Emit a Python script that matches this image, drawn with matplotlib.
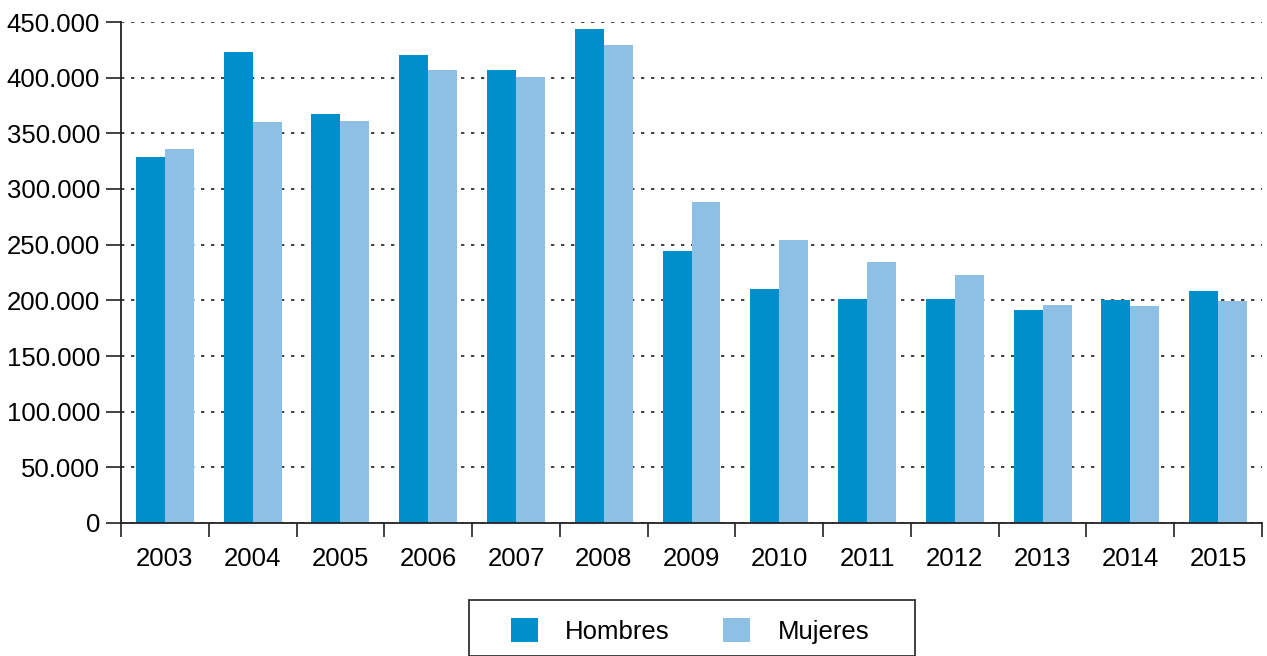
import matplotlib.pyplot as plt
import numpy as np
from matplotlib.patches import Rectangle
from matplotlib.ticker import FuncFormatter, MultipleLocator

# values
years = ['2003', '2004', '2005', '2006', '2007', '2008', '2009',
         '2010', '2011', '2012', '2013', '2014', '2015']
hombres = [329000, 423000, 367000, 420000, 407000, 444000, 244000,
           210000, 201000, 201000, 191000, 200000, 208000]
mujeres = [336000, 360000, 361000, 407000, 401000, 429000, 288000,
           254000, 234000, 223000, 196000, 195000, 199000]

plt.rcParams['font.family'] = ['Liberation Sans', 'DejaVu Sans']
plt.rcParams['font.size'] = 18.5

fig = plt.figure(figsize=(12.67, 6.56), dpi=100)
ax = fig.add_axes([121 / 1267, 1 - 523 / 656, 1141 / 1267, 501 / 656])

x = np.arange(len(years))
w = 0.33
ax.bar(x - w / 2, hombres, w, color='#008fcb', label='Hombres', zorder=2)
ax.bar(x + w / 2, mujeres, w, color='#8dc0e4', label='Mujeres', zorder=2)

ax.set_xlim(-0.5, len(years) - 0.5)
ax.set_ylim(0, 450000)
ax.yaxis.set_major_locator(MultipleLocator(50000))
ax.yaxis.set_major_formatter(FuncFormatter(lambda v, p: f'{int(v):,}'.replace(',', '.')))
ax.grid(axis='y', linestyle=(0, (2, 4)), color='#222222', linewidth=1.2, zorder=1)

# year labels centred, tick marks between the groups
ax.set_xticks(x)
ax.set_xticklabels(years)
ax.tick_params(axis='x', which='major', length=0, pad=17)
ax.set_xticks(np.arange(-0.5, len(years)), minor=True)
ax.tick_params(axis='x', which='minor', length=10, width=1.2, color='#222222')
ax.tick_params(axis='y', length=11, width=1.2, color='#222222', pad=4)

for s in ['top', 'right']:
    ax.spines[s].set_visible(False)
for s in ['left', 'bottom']:
    ax.spines[s].set_linewidth(1.3)
    ax.spines[s].set_color('#222222')

fig.patches.append(Rectangle((469 / 1267, 0), 446 / 1267, 1 - 600 / 656,
                             transform=fig.transFigure, fill=False,
                             edgecolor='#333333', linewidth=1.3))
fig.legend(loc='center', bbox_to_anchor=(690 / 1267, 1 - 631 / 656), ncol=2,
           frameon=False, handlelength=1.05, handleheight=1.05,
           handletextpad=1.05, columnspacing=2.1, fontsize=18.5)

fig.savefig('out.png', dpi=100)
